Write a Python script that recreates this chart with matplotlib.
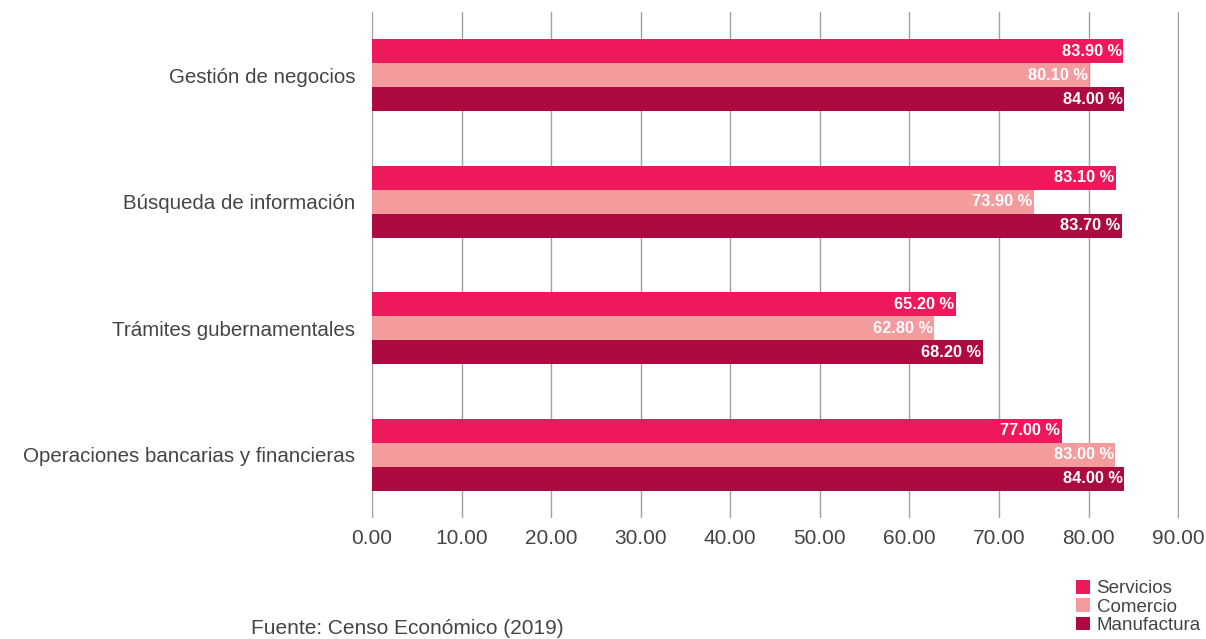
import matplotlib.pyplot as plt
import numpy as np
from matplotlib.patches import Patch

categories = ["Gestión de negocios", "Búsqueda de información",
              "Trámites gubernamentales", "Operaciones bancarias y financieras"]
servicios = [83.90, 83.10, 65.20, 77.00]
comercio = [80.10, 73.90, 62.80, 83.00]
manufactura = [84.00, 83.70, 68.20, 84.00]
series_names = ["Servicios", "Comercio", "Manufactura"]
colors = ["#ee195d", "#f49b9d", "#ad0a3f"]

plt.rcParams['font.family'] = ['Liberation Sans', 'DejaVu Sans']

fig = plt.figure(figsize=(12.06, 6.39), dpi=100)
ax = fig.add_axes([372 / 1206, 1 - 518 / 639, 807 / 1206, 506 / 639])

y = np.arange(len(categories))
h = 0.19
for i, (vals, name, c) in enumerate(zip([servicios, comercio, manufactura], series_names, colors)):
    pos = y + (i - 1) * h
    ax.barh(pos, vals, height=h, color=c, zorder=3, label=name)
    for p, v in zip(pos, vals):
        ax.text(v - 0.2, p, f"{v:.2f} %", ha='right', va='center', color='white',
                fontsize=11.8, fontweight='bold', zorder=4)

ax.set_ylim(len(categories) - 0.5, -0.5)
ax.set_xlim(0, 90.1)
ax.set_xticks(np.arange(0, 91, 10))
ax.set_xticklabels([f"{t:.2f}" for t in np.arange(0, 91, 10)])
ax.set_yticks(y)
ax.set_yticklabels(categories)
ax.tick_params(axis='both', length=0, labelcolor='#444444')
ax.tick_params(axis='x', pad=8, labelsize=15)
ax.tick_params(axis='y', pad=12, labelsize=14.8)
ax.grid(axis='x', color='#a0a0a0', linewidth=1, zorder=0)
ax.axvline(0, color='#555555', linewidth=1.2, zorder=1)
for s in ax.spines.values():
    s.set_visible(False)

handles = [Patch(facecolor=c, label=n) for c, n in zip(colors, series_names)]
fig.legend(handles=handles, loc='lower right', bbox_to_anchor=(1.005, -0.01), frameon=False,
           fontsize=13.5, handlelength=0.75, handleheight=0.75, handletextpad=0.35,
           labelspacing=0.05, labelcolor='#444444', borderaxespad=0.2)

fig.text(251 / 1206, 1 - 638 / 639, "Fuente: Censo Económico (2019)", fontsize=15,
         color='#444444', va='bottom', ha='left')

plt.savefig("out.png", dpi=100)
